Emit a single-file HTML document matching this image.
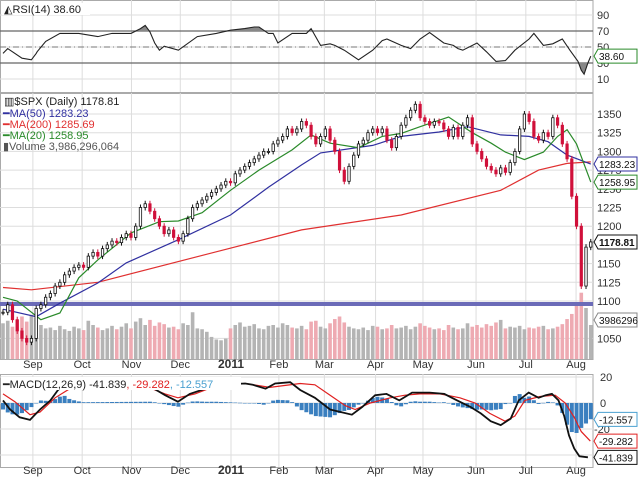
<!DOCTYPE html>
<html><head><meta charset="utf-8"><style>
html,body{margin:0;padding:0;background:#fff}
svg{display:block;font-family:"Liberation Sans",Arial,sans-serif}
</style></head><body>
<svg id="chart" width="640" height="486" viewBox="0 0 640 486" xmlns="http://www.w3.org/2000/svg">
<g id="grid"></g>
<g id="marks"></g>
<g id="labels"></g>
</svg>
<script>
// ---- data ----
const monthLabels = ["Sep","Oct","Nov","Dec","2011","Feb","Mar","Apr","May","Jun","Jul","Aug"];
const monthBars = [6.3,16.7,27.1,37.4,48.1,58.2,67.8,78.6,88.6,99.8,110.3,120.9];
const closes = [1085,1095,1075,1060,1050,1045,1050,1090,1095,1105,1110,1120,1125,1135,1140,1145,1148,1145,1160,1165,1160,1170,1175,1180,1178,1185,1190,1185,1200,1225,1230,1220,1210,1200,1190,1195,1185,1180,1190,1210,1225,1230,1235,1240,1245,1250,1255,1260,1258,1270,1275,1280,1285,1290,1295,1300,1300,1310,1315,1320,1330,1325,1330,1340,1335,1320,1310,1320,1330,1315,1300,1275,1260,1280,1295,1310,1315,1325,1330,1325,1330,1315,1305,1320,1335,1345,1355,1363,1345,1340,1335,1340,1338,1330,1320,1332,1320,1335,1345,1310,1300,1290,1280,1275,1270,1278,1272,1285,1300,1330,1350,1340,1320,1315,1325,1320,1345,1335,1310,1290,1240,1200,1120,1172,1179];
const volumes = [4.2,4.5,3.8,4.6,5.0,4.4,5.2,4.8,4.0,3.6,3.7,3.4,3.9,3.5,3.3,3.8,3.6,3.4,4.5,4.0,3.7,3.4,3.6,3.9,3.5,3.8,4.2,3.6,4.4,4.8,4.0,4.6,3.9,4.3,4.1,3.7,3.8,3.5,4.2,4.0,5.5,3.6,3.5,3.2,2.6,2.3,2.2,2.4,3.6,4.0,4.3,3.8,3.9,4.1,3.6,3.5,3.9,4.0,3.7,4.2,4.0,3.7,3.6,3.9,3.5,4.4,4.5,3.8,3.6,4.2,4.7,5.0,4.3,3.8,3.6,3.5,3.7,3.4,3.9,3.8,3.5,3.6,4.0,3.6,3.7,3.9,3.5,3.8,4.2,3.9,3.7,3.5,3.6,3.4,4.0,3.7,3.5,3.6,4.2,3.8,4.0,3.7,4.1,3.9,4.3,4.6,3.6,3.8,3.7,3.9,3.5,3.7,3.6,3.8,3.9,3.5,3.6,3.8,4.1,4.7,5.3,6.4,7.8,6.0,4.0];
const ma50Bars = [0,7,12,20,26,37,48,56,63,67,78,84,92,98,105,111,115,119,124];
const ma50Vals = [1089,1079,1097,1124,1151,1182,1215,1252,1282,1298,1308,1320,1326,1333,1322,1320,1313,1295,1283];
const ma200Bars = [0,6,20,42,63,84,105,113,119,124];
const ma200Vals = [1118,1115,1125,1161,1195,1215,1248,1275,1284,1286];
const ma20Bars = [0,3,8,12,16,20,27,33,37,42,48,54,61,65,69,75,80,84,88,94,99,103,106,110,114,117,119,121,124];
const ma20Vals = [1105,1100,1075,1084,1131,1155,1191,1206,1207,1218,1248,1275,1302,1322,1311,1305,1320,1324,1333,1346,1325,1311,1299,1289,1299,1320,1329,1310,1259];
const rsiBars = [0,1,4,6,7,7.2,9,12,16,20,23,27,29,30,31,32,33,34,37,41,45,48,51,53,54,56,57,58,61,63,64,65,67,69,70,72,75,78,80,81,84,86,88,90,93,95,96,97,100,102,104,106,108,111,112,114,116,118,119.6,121.3,122,122.6,123.4,124];
const rsiVals = [42,48,36,34,42,44,57,67,67,63,67,67,73,77,69,55,46,51,46,63,67,71,73,75,75,67,67,55,67,67,67,73,52,54,52,46,34,46,58,60,52,48,60,68,55,52,48,46,55,44,32,33,46,60,67,52,54,60,46,32,21,16,30,38.6];
const macdBars = [0,1.5,3.5,5.7,7.8,10,11.6,13,31.4,34.2,36.9,39.4,42.7,44.8,51.1,52.7,55.4,57.4,60.6,62.7,65.8,69,73.6,75.8,78.5,80.9,83.6,86.3,90,93.1,95.8,98.6,100.8,102.9,105,107.1,108.8,110.9,113,114.5,115.8,117.2,118.4,119.4,120.5,121.6,123.4];
const macdVals = [2,-5,-11,-13,-5,2,10,14,12,6,1,7,11,14,15,14,11,15,16,10,4,-5,-9,-3,6,7,2,8,8,7,2,-3,-8,-14,-17,-12,2,8,4,6,7,2,-10,-25,-35,-41,-41.8];
const sigBars = [0,2.5,5.7,7.8,11,14.1,16.7,31.4,34.2,36.9,40.5,44.8,51.1,56.3,62.7,65.8,69,72.2,74.3,77.5,81.7,84.8,88,92.2,96.4,99.6,102.7,105.9,108,110.1,113.3,116.5,118.6,120.5,122,123.9];
const sigVals = [7,1,-9,-7,4,11,13,11,7,4,7,13,15,12,15,14,6,-2,-5,0,4,6,7,7,4,0,-8,-14,-10,2,5,6,0,-11,-22,-29.3];
const rsiTicks = [90,70,50,30,10];
const priceTicks = [1350,1325,1300,1275,1250,1225,1200,1175,1150,1125,1100,1050];
const macdTicks = [20,0,-20,-40];

// ---- scales ----
const X0=3, DX=4.74, RIGHT=593;
const x = i => X0 + i*DX;
const yRsi = v => 15 + (90-v)*0.8;
const yP = p => 114 + (1350-p)*0.748;
const yVol = v => 359 - v*8.5;
const yM = v => 403 - v*1.3;

const NS="http://www.w3.org/2000/svg";
const grid=document.getElementById('grid'), marks=document.getElementById('marks'), labels=document.getElementById('labels');
function mk(parent, tag, attrs){const e=document.createElementNS(NS,tag);for(const k in attrs)e.setAttribute(k,attrs[k]);parent.appendChild(e);return e;}
function interp(bars, vals, i){
  if(i<=bars[0])return vals[0];
  for(let k=1;k<bars.length;k++){if(i<=bars[k]){const t=(i-bars[k-1])/(bars[k]-bars[k-1]);return vals[k-1]+t*(vals[k]-vals[k-1]);}}
  return vals[vals.length-1];
}
function pathOf(bars, vals, ys){return bars.map((b,k)=>(k?'L':'M')+x(b).toFixed(1)+','+ys(vals[k]).toFixed(1)).join(' ');}

const panels=[[0,0,92,'rsi-panel'],[0,93,359,'price-panel'],[0,374,467,'macd-panel']];
panels.forEach(p=>{
  const r=mk(grid,'rect',{x:0.5,y:p[1]+0.5,width:RIGHT-0.5,height:p[2]-p[1],fill:'#fff',stroke:'#aaa','stroke-width':1});
  
  
});
monthBars.forEach(b=>{
  [[0,92],[93,359],[374,467]].forEach(r=>{
    const l=mk(grid,'line',{x1:x(b),x2:x(b),y1:r[0],y2:r[1],stroke:'#ddd','stroke-width':1});
    
    
  });
});
rsiTicks.forEach(v=>{
  const strong=(v===70||v===30);
  const l=mk(grid,'line',{x1:0,x2:RIGHT,y1:yRsi(v),y2:yRsi(v),stroke:strong?'#666':'#ddd','stroke-width':strong?1.2:1});
  
  
  const t=mk(labels,'text',{x:597,y:yRsi(v)+4,'font-size':11,fill:'#333'});t.textContent=v;
  
  
});
const mid=mk(grid,'line',{x1:0,x2:RIGHT,y1:yRsi(50),y2:yRsi(50),stroke:'#777','stroke-dasharray':'6,3,1,3'});


priceTicks.forEach(v=>{
  const l=mk(grid,'line',{x1:0,x2:RIGHT,y1:yP(v),y2:yP(v),stroke:'#ddd'});
  
  
  const t=mk(labels,'text',{x:597,y:yP(v)+4,'font-size':11,fill:'#333'});t.textContent=v;
  
  
});
macdTicks.forEach(v=>{
  const l=mk(grid,'line',{x1:0,x2:RIGHT,y1:yM(v),y2:yM(v),stroke:'#ddd'});
  
  
  const t=mk(labels,'text',{x:v<0?594:600,y:yM(v)+4,'font-size':11,fill:'#333'});t.textContent=v;
  
  
});
monthLabels.forEach((m,k)=>{
  [368,474].forEach(yy=>{
    const t=mk(labels,'text',{x:x(monthBars[k]),y:yy,'font-size':m==='2011'?12:11,'font-weight':m==='2011'?'bold':'normal','text-anchor':'middle',fill:'#333'});
    t.textContent=m;
    
    
  });
});

// RSI overbought/oversold fill
const clipTop=mk(grid,'clipPath',{id:'obClip'});mk(clipTop,'rect',{x:0,y:0,width:RIGHT,height:yRsi(70)});
const clipBot=mk(grid,'clipPath',{id:'osClip'});mk(clipBot,'rect',{x:0,y:yRsi(30),width:RIGHT,height:40});
const rsiP=pathOf(rsiBars,rsiVals,yRsi);
const f1=mk(marks,'path',{d:rsiP+` L${x(124)},${yRsi(70)} L${x(0)},${yRsi(70)} Z`,fill:'#888','clip-path':'url(#obClip)'});


const f2=mk(marks,'path',{d:rsiP+` L${x(124)},${yRsi(30)} L${x(0)},${yRsi(30)} Z`,fill:'#888','clip-path':'url(#osClip)'});


const rl=mk(marks,'path',{d:rsiP,fill:'none',stroke:'#222','stroke-width':1.1});



volumes.forEach((v,i)=>{
  const down = i>0 && closes[i]<closes[i-1];
  const b=mk(marks,'rect',{x:x(i)-1.8,y:yVol(v),width:3.6,height:359-yVol(v),fill:down?'#eeaab2':'#b4b4b4'});
  
  
});
const sl=mk(marks,'rect',{x:0,y:yP(1096)-2,width:RIGHT,height:4,fill:'#6b6bb8'});



[[ma200Bars,ma200Vals,'#e03030','ma200-line'],[ma50Bars,ma50Vals,'#3030a0','ma50-line'],[ma20Bars,ma20Vals,'#2a8a2a','ma20-line']].forEach(s=>{
  const l=mk(marks,'path',{d:pathOf(s[0],s[1],yP),fill:'none',stroke:s[2],'stroke-width':1.2});
  
  
});
closes.forEach((c,i)=>{
  const o = i>0?closes[i-1]:c;
  const down = c<o;
  const col = down?'#d0103a':'#111';
  const hi=Math.max(o,c)+4, lo=Math.min(o,c)-4;
  const w=mk(marks,'line',{x1:x(i),x2:x(i),y1:yP(hi),y2:yP(lo),stroke:col,'stroke-width':1});
  
  
  const b=mk(marks,'rect',{x:x(i)-1.2,y:yP(Math.max(o,c)),width:2.4,height:Math.max(1,Math.abs(yP(o)-yP(c))),fill:down?'#d0103a':'#fff',stroke:col,'stroke-width':0.8});
  
  
});

for(let i=0;i<closes.length;i++){
  const h=interp(macdBars,macdVals,i)-interp(sigBars,sigVals,i);
  const y1=yM(Math.max(0,h)), y2=yM(Math.min(0,h));
  const b=mk(marks,'rect',{x:x(i)-2,y:y1,width:4,height:Math.max(0.5,y2-y1),fill:'#3a7fbf'});
  
  
}
const sigL=mk(marks,'path',{d:pathOf(sigBars,sigVals,yM),fill:'none',stroke:'#e02020','stroke-width':1.2});


const macdL=mk(marks,'path',{d:pathOf(macdBars,macdVals,yM),fill:'none',stroke:'#111','stroke-width':1.8});



function txt(xx,yy,s,col,name,extra){const t=mk(labels,'text',Object.assign({x:xx,y:yy,'font-size':11,fill:col},extra||{}));t.textContent=s;return t;}
const lb1=mk(labels,'rect',{x:2,y:3,width:88,height:12,fill:'#fff'});


txt(4,13,'◭RSI(14) 38.60','#222','rsi-legend');
txt(4,105,'▥$SPX (Daily) 1178.81','#222','price-legend');
txt(3,117,'━MA(50) 1283.23','#3030a0','ma50-legend');
txt(3,128,'━MA(200) 1285.69','#e03030','ma200-legend');
txt(3,139,'━MA(20) 1258.95','#2a8a2a','ma20-legend');
txt(3,150,'▮Volume 3,986,296,064','#555','volume-legend');
const lb2=mk(labels,'rect',{x:1,y:377,width:240,height:13,fill:'#fff'});


const mt=mk(labels,'text',{x:3,y:388,'font-size':11,fill:'#222'});


mt.innerHTML='━MACD(12,26,9) -41.839<tspan fill="#e02020">, -29.282</tspan><tspan fill="#4aa0d0">, -12.557</tspan>';

function tag(yy,s,col,name,bold){
  const p=mk(labels,'path',{d:`M594,${yy} L598,${yy-7} L637,${yy-7} L637,${yy+7} L598,${yy+7} Z`,fill:'#fff',stroke:col,'stroke-width':1});
  
  
  const t=mk(labels,'text',{x:599,y:yy+4,'font-size':10,fill:'#111','font-weight':bold?'bold':'normal'});t.textContent=s;
  
  
}
tag(yRsi(38.6),'38.60','#2a8a2a','rsi-value-tag');
tag(yP(1283.23),'1283.23','#3030a0','ma50-value-tag');
tag(yP(1258.95),'1258.95','#2a8a2a','ma20-value-tag');
tag(yP(1178.81),'1178.81','#111','price-value-tag',true);
tag(320,'3986296','#888','volume-value-tag');
tag(yM(-12.557),'-12.557','#4aa0d0','hist-value-tag');
tag(yM(-29.282),'-29.282','#e02020','signal-value-tag');
tag(yM(-41.839),'-41.839','#111','macd-value-tag');
</script>
</body></html>
